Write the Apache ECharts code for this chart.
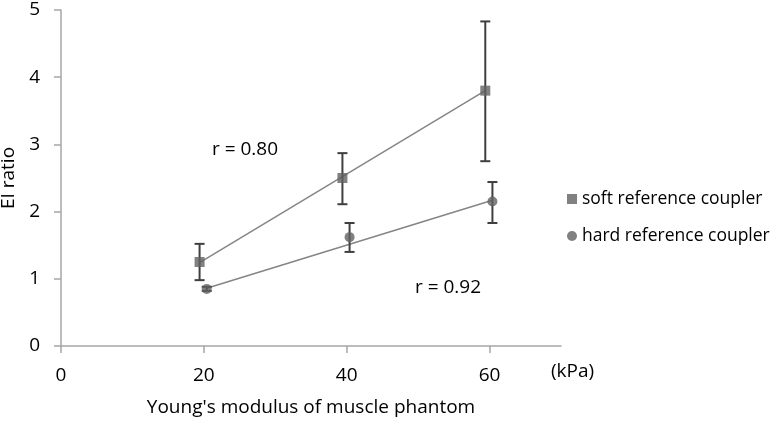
<!DOCTYPE html>
<html>
<head>
<meta charset="utf-8">
<script src="https://cdn.jsdelivr.net/npm/echarts@6/dist/echarts.min.js"></script>
<style>
  html, body { margin: 0; padding: 0; background: #fff; }
  #chart { width: 782px; height: 422px; }
</style>
</head>
<body>
<div id="chart"></div>
<script>
// values: [x (kPa), EI ratio]
const softPoints = [[19.4, 1.25], [39.4, 2.5], [59.4, 3.8]]
const softErrLow = [0.98, 2.11, 2.75]
const softErrHigh = [1.52, 2.87, 4.83]
const hardPoints = [[20.4, 0.85], [40.4, 1.62], [60.4, 2.15]]
const hardErrLow = [0.82, 1.4, 1.83]
const hardErrHigh = [0.88, 1.83, 2.44]
// fitted trend line ends
const softTrend = [[19.4, 1.24], [59.4, 3.8]]
const hardTrend = [[20.4, 0.86], [60.4, 2.17]]
const xTicks = [0, 20, 40, 60]

const font = '"Open Sans", "DejaVu Sans", sans-serif'
const ink = '#000'
const chart = echarts.init(document.getElementById('chart'))

// error bars with caps
const errBars = (points, lo, hi) => ({
  type: 'custom',
  silent: true,
  z: 3,
  data: points.map((p, i) => [p[0], lo[i], hi[i]]),
  encode: { x: 0, y: [1, 2] },
  renderItem: (params, api) => {
    const x = api.value(0)
    const a = api.coord([x, api.value(1)])
    const b = api.coord([x, api.value(2)])
    const w = 5
    const style = { stroke: '#3f3f3f', lineWidth: 2 }
    return {
      type: 'group',
      children: [
        { type: 'line', shape: { x1: a[0], y1: a[1], x2: b[0], y2: b[1] }, style },
        { type: 'line', shape: { x1: a[0] - w, y1: a[1], x2: a[0] + w, y2: a[1] }, style },
        { type: 'line', shape: { x1: b[0] - w, y1: b[1], x2: b[0] + w, y2: b[1] }, style },
      ],
    }
  },
})

const trend = (data) => ({
  type: 'line',
  data,
  symbol: 'none',
  silent: true,
  z: 2,
  lineStyle: { color: '#858585', width: 1.5 },
})

chart.setOption({
  animation: false,
  textStyle: { fontFamily: font },
  grid: { left: 61, right: 221, top: 10, bottom: 76, containLabel: false, outerBoundsMode: 'none' },
  legend: {
    orient: 'vertical',
    left: 567,
    top: 190,
    padding: 0,
    itemGap: 19,
    itemWidth: 10,
    itemHeight: 10,
    textStyle: { fontSize: 17.5, color: ink, fontFamily: font },
    data: [
      { name: 'soft reference coupler', icon: 'rect' },
      { name: 'hard reference coupler', icon: 'circle' },
    ],
  },
  xAxis: {
    type: 'value',
    min: 0,
    max: 70,
    interval: 20,
    name: "Young's modulus of muscle phantom",
    nameLocation: 'middle',
    nameGap: 52,
    nameTextStyle: { fontSize: 19, color: ink },
    splitLine: { show: false },
    axisLine: { onZero: false, lineStyle: { color: '#a6a6a6', width: 1.5 } },
    axisTick: { customValues: xTicks, length: 7, lineStyle: { color: '#a6a6a6', width: 1.5 } },
    axisLabel: { customValues: xTicks, fontSize: 19, color: ink, margin: 20 },
  },
  yAxis: {
    type: 'value',
    min: 0,
    max: 5,
    interval: 1,
    name: 'EI ratio',
    nameLocation: 'middle',
    nameGap: 42,
    nameTextStyle: { fontSize: 19, color: ink },
    splitLine: { show: false },
    axisLine: { show: true, lineStyle: { color: '#a6a6a6', width: 1.5 } },
    axisTick: { show: true, length: 7, lineStyle: { color: '#a6a6a6', width: 1.5 } },
    axisLabel: { fontSize: 19, color: ink, margin: 21 },
  },
  graphic: [
    { type: 'text', left: 551, top: 362, style: { text: '(kPa)', font: '19px ' + font, fill: ink } },
    { type: 'text', left: 212, top: 140, style: { text: 'r = 0.80', font: '19px ' + font, fill: ink } },
    { type: 'text', left: 415, top: 278, style: { text: 'r = 0.92', font: '19px ' + font, fill: ink } },
  ],
  series: [
    trend(softTrend),
    trend(hardTrend),
    errBars(softPoints, softErrLow, softErrHigh),
    errBars(hardPoints, hardErrLow, hardErrHigh),
    {
      name: 'soft reference coupler',
      type: 'scatter',
      data: softPoints,
      symbol: 'rect',
      symbolSize: 10,
      z: 4,
      itemStyle: { color: '#626262' },
    },
    {
      name: 'hard reference coupler',
      type: 'scatter',
      data: hardPoints,
      symbol: 'circle',
      symbolSize: 10,
      z: 4,
      itemStyle: { color: '#626262' },
    },
  ],
})
</script>
</body>
</html>
